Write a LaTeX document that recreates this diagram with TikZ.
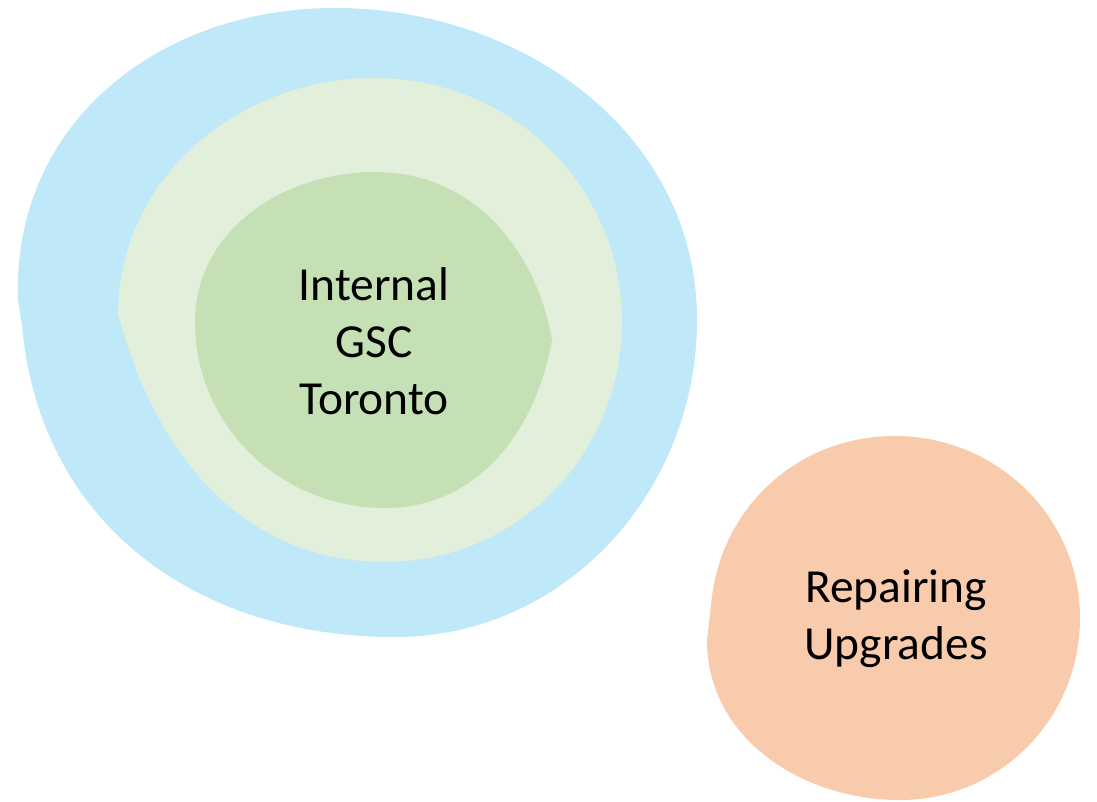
\documentclass[tikz,border=0pt]{standalone}
\usepackage{fontspec}
\setmainfont{Carlito}
\definecolor{blueblob}{HTML}{BFE8F9}
\definecolor{lightgreen}{HTML}{E2EFDA}
\definecolor{darkgreen}{HTML}{C5E0B4}
\definecolor{orangeblob}{HTML}{F8CBAD}
\begin{document}
\begin{tikzpicture}[x=0.02cm,y=0.02cm,
  blobtext/.style={font=\fontsize{27}{32.5}\selectfont, align=center, text=black}]
\useasboundingbox (0,-801) rectangle (1097,0);
% blue outer blob
\fill[blueblob] (18,-300) to[out=92,in=180,looseness=1.05] (335,-8)
  to[out=0,in=90] (697,-320)
  to[out=-90,in=0] (395,-637)
  to[out=180,in=-85,looseness=1.05] (22,-325) -- cycle;
% light green blob
\fill[lightgreen] (118,-315) to[out=90,in=180] (375,-78)
  to[out=0,in=90] (622,-322)
  to[out=-90,in=0] (385,-562)
  to[out=180,in=-75] (120,-320) -- cycle;
% dark green blob
\fill[darkgreen] (195,-322) to[out=90,in=180] (375,-172)
  to[out=0,in=100] (552,-340)
  to[out=-100,in=0] (385,-508)
  to[out=180,in=-90] (195,-322) -- cycle;
% orange blob
\fill[orangeblob] (711,-605) to[out=85,in=180] (895,-436)
  to[out=0,in=90] (1080,-618)
  to[out=-90,in=0] (900,-800)
  to[out=180,in=-90] (707,-640) -- cycle;
\node[blobtext] (inner) at (374,-341) {Internal\\GSC\\Toronto};
\node[blobtext] (repair) at (896,-619) {Repairing\\Upgrades};
\end{tikzpicture}
\end{document}
